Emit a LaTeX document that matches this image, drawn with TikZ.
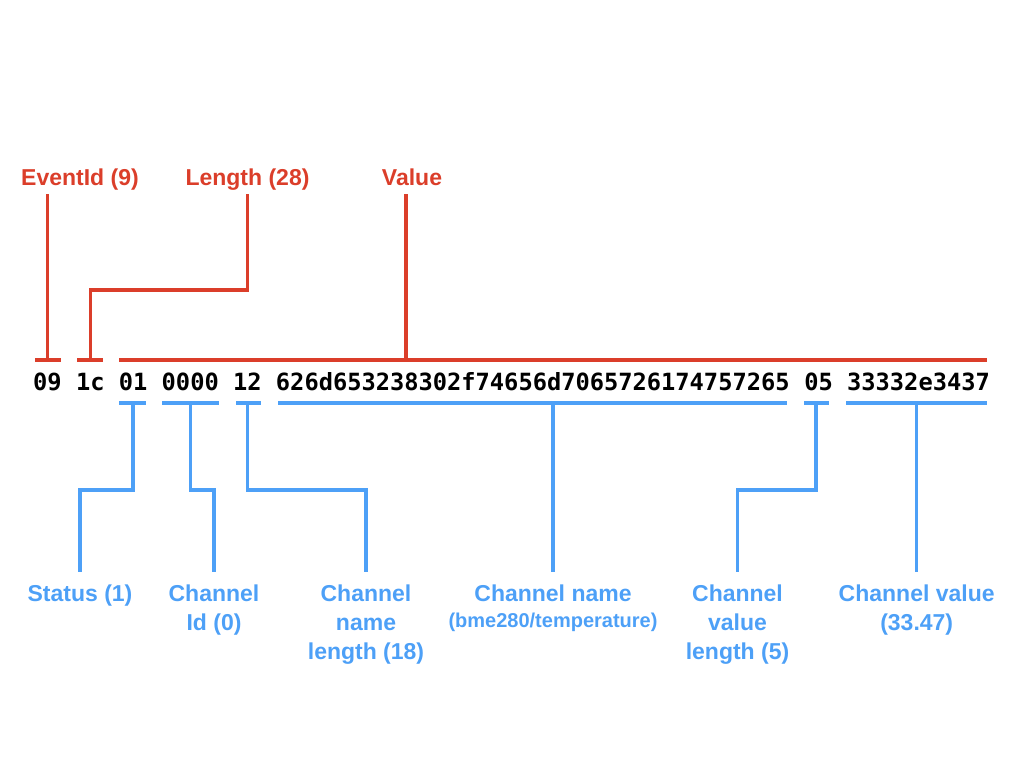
\documentclass[tikz,border=0pt]{standalone}
\usepackage{fontspec}
\setmainfont{Liberation Sans}
\newfontfamily\hexfont{DejaVu Sans Mono}
\definecolor{keyred}{RGB}{219,62,42}
\definecolor{keyblue}{RGB}{77,160,247}
\begin{document}
\begin{tikzpicture}[x=1pt,y=-1pt,
  hex/.style={font=\hexfont\bfseries\fontsize{23.7}{28}\selectfont, inner sep=0pt, anchor=base west},
  redlab/.style={font=\bfseries\fontsize{23}{29}\selectfont, text=keyred, inner sep=0pt, anchor=base},
  bluelab/.style={font=\bfseries\fontsize{23}{29}\selectfont, text=keyblue, inner sep=0pt, anchor=north, align=center},
  redl/.style={draw=keyred, line width=3.5pt},
  bluel/.style={draw=keyblue, line width=3.5pt}]
\useasboundingbox (0,0) rectangle (1024,768);

% hex tokens
\node[hex] (t09)   at (33,390)     {09};
\node[hex] (t1c)   at (75.84,390)  {1c};
\node[hex] (t01)   at (118.68,390) {01};
\node[hex] (t0000) at (161.52,390) {0000};
\node[hex] (t12)   at (232.92,390) {12};
\node[hex] (tname) at (275.76,390) {626d653238302f74656d7065726174757265};
\node[hex] (t05)   at (804.12,390) {05};
\node[hex] (tval)  at (846.96,390) {33332e3437};

% red labels
\node[redlab] (lev)  at (80,185)    {EventId (9)};
\node[redlab] (llen) at (247.5,185) {Length (28)};
\node[redlab] (lval) at (412,185)   {Value};

% red brackets
\draw[redl] (35,360) -- (61,360);
\draw[redl] (t09.center |- 0,360) -- (t09.center |- 0,194);
\draw[redl] (77,360) -- (103,360);
\draw[redl] (t1c.center |- 0,360) -- (t1c.center |- 0,290) -| (llen.south |- 0,194);
\draw[redl] (119,360) -- (987,360);
\draw[redl] (406,360) -- (406,194);

% blue labels
\node[bluelab] (lstat) at (80,585)    {Status (1)};
\node[bluelab] (lcid)  at (214,585)   {Channel\\Id (0)};
\node[bluelab] (lcnl)  at (366,585)   {Channel\\name\\length (18)};
\node[bluelab] (lcn)   at (553,585)   {Channel name\\[-3pt]{\fontsize{20}{24}\selectfont (bme280/temperature)}};
\node[bluelab] (lcvl)  at (737.5,585) {Channel\\value\\length (5)};
\node[bluelab] (lcv)   at (916.7,585) {Channel value\\(33.47)};

% blue brackets
\draw[bluel] (119,403) -- (146,403);
\draw[bluel] (t01.center |- 0,403) -- (t01.center |- 0,490) -| ([yshift=13pt]lstat.north);
\draw[bluel] (162,403) -- (219,403);
\draw[bluel] (t0000.center |- 0,403) -- (t0000.center |- 0,490) -| ([yshift=13pt]lcid.north);
\draw[bluel] (236,403) -- (261,403);
\draw[bluel] (t12.center |- 0,403) -- (t12.center |- 0,490) -| ([yshift=13pt]lcnl.north);
\draw[bluel] (278,403) -- (787,403);
\draw[bluel] (lcn.north |- 0,403) -- ([yshift=13pt]lcn.north);
\draw[bluel] (804,403) -- (829,403);
\draw[bluel] (816,403) -- (816,490) -| ([yshift=13pt]lcvl.north);
\draw[bluel] (846,403) -- (987,403);
\draw[bluel] (lcv.north |- 0,403) -- ([yshift=13pt]lcv.north);
\end{tikzpicture}
\end{document}
